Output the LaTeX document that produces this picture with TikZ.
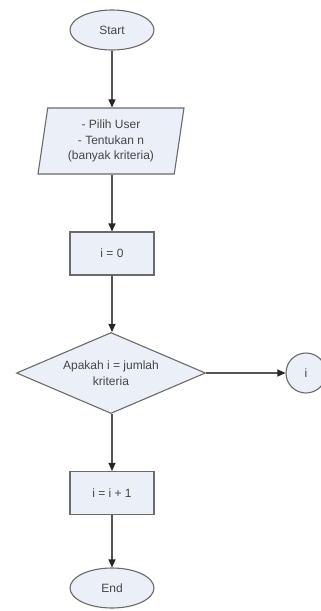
\documentclass[tikz,border=0pt]{standalone}
\usepackage{fontspec}
\setmainfont{Liberation Sans}
\usetikzlibrary{shapes.geometric,arrows.meta}
\definecolor{boxfill}{HTML}{EBF0F8}
\definecolor{boxdraw}{HTML}{6A6A6A}
\definecolor{txt}{HTML}{454545}
\definecolor{linec}{HTML}{555555}
\begin{document}
\begin{tikzpicture}[x=1pt,y=1pt,
  base/.style={draw=boxdraw,fill=boxfill,line width=1.1pt,text=txt,font=\fontsize{12}{15.5}\selectfont,inner sep=0pt,align=center},
  term/.style={base,ellipse,minimum width=84pt,minimum height=40pt},
  io/.style={base,trapezium,trapezium left angle=77,trapezium right angle=103,trapezium stretches body,minimum width=146pt,minimum height=66pt},
  proc/.style={base,rectangle,minimum width=84pt,minimum height=43pt},
  decision/.style={base,diamond,aspect=2.33,minimum width=189pt,minimum height=81pt},
  conn/.style={base,circle,minimum size=40pt},
  flow/.style={draw=linec,line width=1.1pt,-{Triangle[length=8pt,width=7pt,fill=black!85,color=black!85]}}
]
\useasboundingbox (0,0) rectangle (321,-611);
\node[term] (start) at (112,-30) {Start};
\node[io] (input) at (111,-141) {- Pilih User\\- Tentukan n\\(banyak kriteria)};
\node[proc] (i0) at (112,-253.5) {i = 0};
\node[decision] (dec) at (111,-373) {Apakah i = jumlah\\kriteria};
\node[conn] (con) at (306,-373) {i};
\node[proc] (inc) at (112,-493) {i = i + 1};
\node[term] (end) at (112,-588) {End};
\draw[flow] (start.south) -- (start.south |- input.north);
\draw[flow] (start.south |- input.south) -- (i0.north);
\draw[flow] (i0.south) -- (i0.south |- dec.north);
\draw[flow] (dec.east) -- (con.west);
\draw[flow] (i0.south |- dec.south) -- (inc.north);
\draw[flow] (inc.south) -- (end.north);
\end{tikzpicture}
\end{document}
